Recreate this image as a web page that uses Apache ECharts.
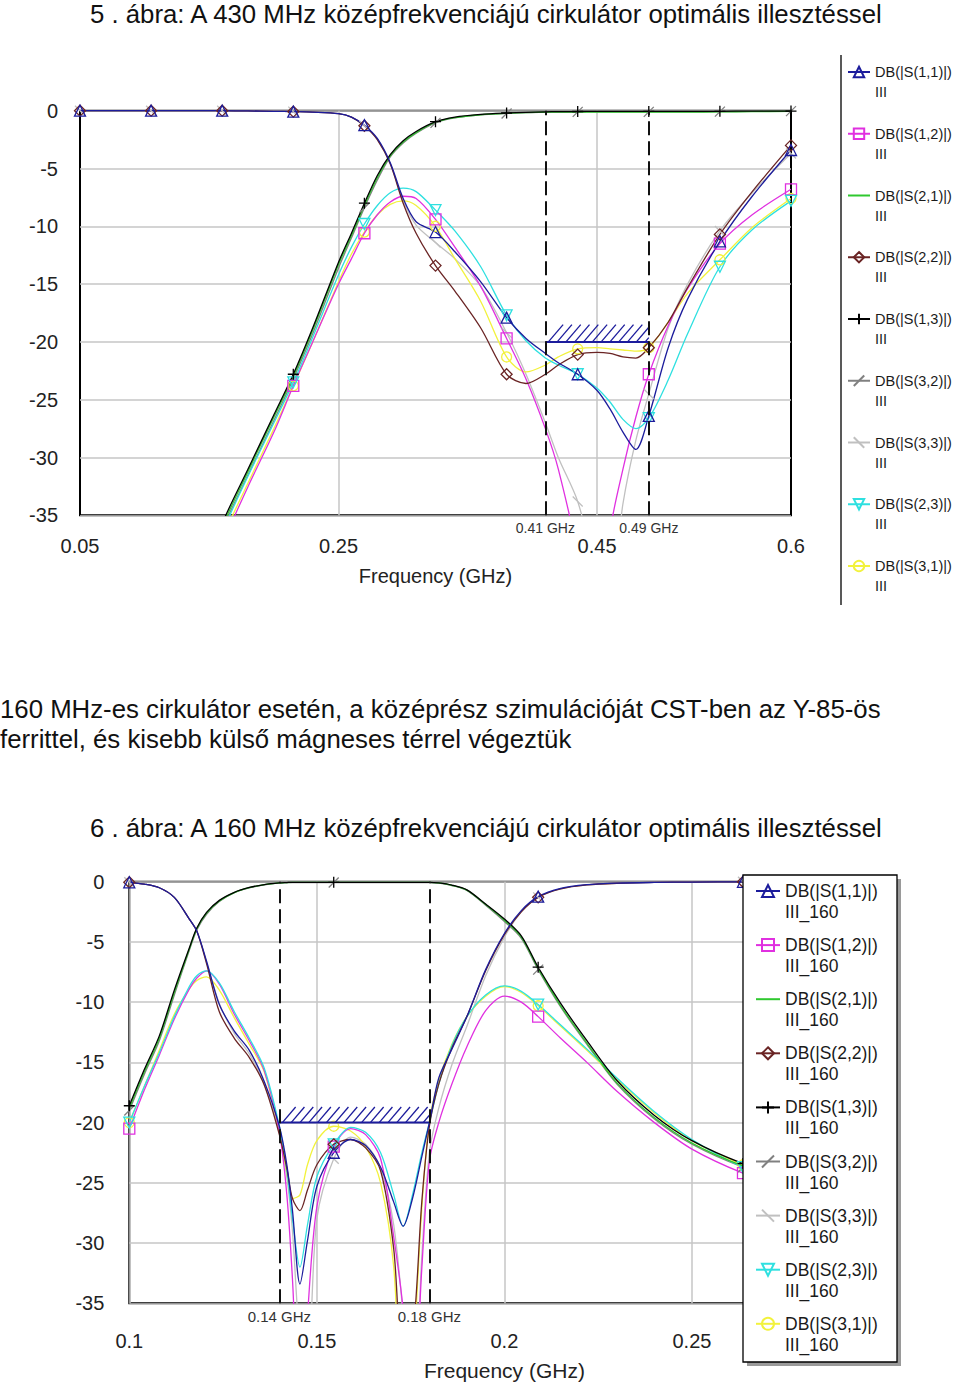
<!DOCTYPE html>
<html><head><meta charset="utf-8">
<script src="https://cdn.jsdelivr.net/npm/echarts@6/dist/echarts.min.js"></script>
<style>html,body{margin:0;padding:0;background:#fff}#c{width:960px;height:1392px}</style>
</head><body><div id="c"></div>
<script>
// ---------------- DATA ----------------
const seriesNames = ['DB(|S(1,1)|)','DB(|S(1,2)|)','DB(|S(2,1)|)','DB(|S(2,2)|)','DB(|S(1,3)|)','DB(|S(3,2)|)','DB(|S(3,3)|)','DB(|S(2,3)|)','DB(|S(3,1)|)'];

// Figure 5 (430 MHz)
const topFreq = [0.05,0.105,0.16,0.18,0.2,0.215,0.23,0.25,0.26,0.27,0.28,0.29,0.3,0.31,0.325,0.34,0.36,0.38,0.395,0.41,0.42,0.435,0.45,0.46,0.47,0.48,0.49,0.505,0.52,0.545,0.57,0.6];
const topMarkerFreq = [0.05,0.105,0.16,0.215,0.27,0.325,0.38,0.435,0.49,0.545,0.6];
const top_S11 = [0,0,0,-0.02,-0.05,-0.08,-0.12,-0.25,-0.55,-1.25,-2.4,-4.5,-7.6,-9.6,-10.5,-12.2,-14.8,-17.9,-19.7,-21.0,-21.8,-22.8,-24.2,-25.8,-27.8,-29.3,-26.4,-20.5,-16.3,-11.3,-7.4,-3.4];
const top_S12 = [-70,-52,-37.5,-32.5,-27.8,-23.8,-20.0,-15.0,-12.8,-10.6,-9.0,-7.9,-7.4,-7.6,-9.4,-11.8,-15.2,-19.7,-23.2,-27.5,-31.0,-38.5,-50,-36.5,-31.0,-26.5,-22.8,-18.6,-15.4,-11.5,-9.0,-6.8];
const top_S21 = [-70,-52,-36,-31.2,-26.5,-23.0,-19.0,-13.3,-10.8,-8.2,-5.8,-3.9,-2.7,-1.9,-1.0,-0.6,-0.35,-0.22,-0.16,-0.13,-0.12,-0.12,-0.12,-0.12,-0.12,-0.12,-0.12,-0.12,-0.12,-0.1,-0.08,-0.05];
const top_S22 = [0,0,0,-0.02,-0.05,-0.08,-0.12,-0.25,-0.55,-1.3,-2.5,-4.6,-8.0,-10.6,-13.4,-15.6,-18.8,-22.8,-23.6,-22.8,-22.0,-21.1,-20.9,-21.0,-21.3,-21.4,-20.5,-18.3,-15.3,-10.7,-7.0,-3.0];
const top_S13 = [-69,-51,-35.7,-31.0,-26.3,-22.8,-18.8,-13.1,-10.6,-8.0,-5.6,-3.8,-2.6,-1.8,-0.95,-0.55,-0.32,-0.2,-0.14,-0.1,-0.08,-0.07,-0.06,-0.06,-0.06,-0.06,-0.06,-0.06,-0.06,-0.05,-0.04,-0.03];
const top_S32 = [-71,-53,-36.3,-31.5,-26.8,-23.2,-19.3,-13.6,-11.0,-8.4,-6.0,-4.0,-2.8,-1.95,-1.05,-0.62,-0.36,-0.24,-0.17,-0.14,-0.12,-0.1,-0.1,-0.1,-0.1,-0.1,-0.1,-0.1,-0.1,-0.08,-0.06,-0.04];
const top_S33 = [0,0,0,-0.02,-0.05,-0.08,-0.12,-0.25,-0.55,-1.3,-2.5,-4.6,-7.8,-9.9,-11.4,-12.8,-15.2,-19.2,-22.8,-27.0,-30.0,-33.8,-40,-42,-34,-28.5,-24.5,-18.8,-15.0,-10.4,-7.1,-3.7];
const top_S23 = [-71,-52,-36.5,-31.6,-27.0,-23.5,-19.6,-14.2,-11.8,-9.8,-8.2,-7.1,-6.7,-7.0,-8.6,-10.4,-13.5,-17.7,-19.9,-21.4,-22.0,-22.8,-24.0,-25.2,-26.7,-27.5,-26.6,-23.3,-19.3,-13.5,-10.3,-7.8];
const top_S31 = [-71,-52,-37,-32.2,-27.5,-23.8,-20.0,-14.8,-12.4,-10.5,-9.0,-8.1,-7.8,-8.2,-10.0,-12.8,-16.5,-21.3,-22.6,-22.0,-21.3,-20.6,-20.5,-20.6,-20.7,-20.8,-20.5,-18.3,-15.8,-12.9,-10.1,-7.6];
const topBand = [0.41, 0.49];
const topSpec = -20;
const topHatchTop = -18.5;
const topXLabels = [0.05, 0.25, 0.45, 0.6];
const topXGrid = [0.25, 0.45];

// Figure 6 (160 MHz)
const botFreq = [0.1,0.104,0.108,0.112,0.116,0.118,0.1206,0.124,0.128,0.132,0.136,0.14,0.142,0.1435,0.1455,0.1475,0.15,0.1545,0.159,0.163,0.167,0.1705,0.173,0.1755,0.178,0.18,0.1825,0.186,0.19,0.195,0.2,0.2045,0.209,0.215,0.222,0.23,0.24,0.25,0.2636,0.28,0.3];
const botMarkerFreq = [0.1,0.1545,0.209,0.2636];
const bot_S11 = [-0.05,-0.2,-0.5,-1.3,-3.1,-4.1,-6.6,-10.2,-12.4,-14.0,-16.6,-20.3,-23.5,-27.3,-33.4,-29.8,-25.3,-22.5,-21.4,-21.9,-23.7,-26.6,-28.6,-26.3,-22.8,-20.0,-16.3,-13.9,-11.2,-7.3,-4.3,-2.4,-1.24,-0.55,-0.25,-0.12,-0.06,-0.03,-0.01,0,0];
const bot_S12 = [-20.5,-17.3,-14.4,-11.4,-8.9,-8.0,-7.4,-8.5,-11.0,-13.2,-15.7,-20.8,-26.0,-33.0,-45,-36,-27.0,-22.0,-20.5,-21.0,-23.0,-29.5,-35.5,-45,-32,-23.2,-20.0,-16.8,-13.7,-10.7,-9.5,-10.0,-11.2,-13.0,-15.0,-17.4,-20.0,-22.2,-24.2,-26.0,-27.5];
const bot_S21 = [-18.8,-15.8,-13.0,-9.2,-5.6,-3.9,-2.6,-1.6,-0.9,-0.5,-0.25,-0.1,-0.07,-0.06,-0.06,-0.06,-0.06,-0.06,-0.06,-0.06,-0.06,-0.06,-0.06,-0.06,-0.06,-0.06,-0.1,-0.3,-0.7,-1.9,-3.2,-4.6,-7.2,-10.3,-13.4,-16.7,-19.6,-21.7,-23.6,-25.2,-26.6];
const bot_S22 = [-0.05,-0.2,-0.5,-1.3,-3.1,-4.1,-6.8,-10.8,-13.0,-14.6,-16.9,-21.0,-23.8,-26.3,-27.3,-25.6,-23.5,-21.8,-21.4,-22.1,-24.0,-30.5,-40,-38,-26.5,-20.3,-16.8,-13.8,-11.2,-7.4,-4.4,-2.5,-1.3,-0.6,-0.27,-0.13,-0.06,-0.03,-0.01,0,0];
const bot_S13 = [-18.6,-15.6,-12.8,-9.0,-5.5,-3.85,-2.55,-1.55,-0.88,-0.48,-0.24,-0.1,-0.07,-0.05,-0.05,-0.05,-0.05,-0.05,-0.05,-0.05,-0.05,-0.05,-0.05,-0.05,-0.05,-0.05,-0.1,-0.28,-0.68,-1.85,-3.1,-4.5,-7.1,-10.1,-13.2,-16.5,-19.4,-21.5,-23.4,-25.0,-26.4];
const bot_S32 = [-19.0,-16.0,-13.2,-9.4,-5.7,-4.0,-2.7,-1.65,-0.92,-0.52,-0.26,-0.1,-0.08,-0.07,-0.07,-0.07,-0.07,-0.07,-0.07,-0.07,-0.07,-0.07,-0.07,-0.07,-0.07,-0.07,-0.11,-0.32,-0.72,-1.95,-3.3,-4.7,-7.3,-10.4,-13.5,-16.8,-19.7,-21.8,-23.7,-25.3,-26.7];
const bot_S33 = [-0.05,-0.2,-0.5,-1.3,-3.1,-4.1,-6.7,-10.1,-12.6,-14.3,-16.8,-20.8,-24.5,-29.0,-38,-40,-28.0,-23.0,-21.2,-21.8,-23.8,-28.5,-36,-45,-31,-22.5,-18.8,-15.2,-12.0,-7.8,-4.6,-2.5,-1.3,-0.6,-0.27,-0.13,-0.06,-0.03,-0.01,0,0];
const bot_S23 = [-20.0,-17.0,-14.2,-11.2,-8.7,-7.8,-7.4,-8.4,-10.8,-13.0,-15.5,-20.3,-24.0,-28.0,-32.0,-28.5,-24.5,-21.8,-20.4,-20.8,-22.5,-26.0,-28.6,-26.0,-22.5,-20.0,-16.8,-13.6,-11.2,-9.4,-8.65,-9.1,-10.2,-11.9,-13.9,-16.3,-19.1,-21.4,-23.7,-25.5,-27.0];
const bot_S31 = [-20.0,-17.0,-14.0,-11.0,-8.9,-8.2,-7.9,-9.0,-11.3,-13.5,-15.8,-20.8,-24.2,-26.3,-26.0,-23.5,-21.5,-20.3,-20.7,-22.0,-25.0,-32.0,-45,-40,-27.0,-19.9,-16.5,-13.5,-11.2,-9.5,-8.7,-9.2,-10.3,-12.0,-14.0,-16.4,-19.2,-21.5,-23.5,-25.3,-26.8];
const botBand = [0.14, 0.18];
const botSpec = -20;
const botHatchTop = -18.7;

const title5 = '5 . ábra: A 430 MHz középfrekvenciájú cirkulátor optimális illesztéssel';
const bodyLine1 = '160 MHz-es cirkulátor esetén, a középrész szimulációját CST-ben az Y-85-ös';
const bodyLine2 = 'ferrittel, és kisebb külső mágneses térrel végeztük';
const title6 = '6 . ábra: A 160 MHz középfrekvenciájú cirkulátor optimális illesztéssel';
const xName = 'Frequency (GHz)';

// ---------------- STYLE ----------------
const FONT = "'Liberation Sans', Arial, sans-serif";
const styles = [
  {color:'#1c1c9c', symbol:'triangle', size:11},
  {color:'#e030e0', symbol:'rect', size:11},
  {color:'#2fc82f', symbol:'circle', size:1, noMarker:true},
  {color:'#6a2424', symbol:'diamond', size:11},
  {color:'#000000', symbol:'path://M5,0L5,10M0,5L10,5', size:11},
  {color:'#808080', symbol:'path://M0,8L10,2', size:10},
  {color:'#c0c0c0', symbol:'path://M0,3L10,7', size:10},
  {color:'#2ee0e0', symbol:'path://M0,0L10,0L5,9Z', size:11},
  {color:'#f2f23c', symbol:'circle', size:10}
];
const topValues = [top_S11, top_S12, top_S21, top_S22, top_S13, top_S32, top_S33, top_S23, top_S31];
const botValues = [bot_S11, bot_S12, bot_S21, bot_S22, bot_S13, bot_S32, bot_S33, bot_S23, bot_S31];
const drawOrder = [6,5,8,1,7,3,2,4,0];

function buildSeries(freq, values, markers, gi) {
  return drawOrder.map((i) => {
    const st = styles[i];
    const data = freq.map((f, k) => {
      const item = {value: [f, values[i][k]]};
      if (st.noMarker || !markers.some(m => Math.abs(m - f) < 1e-6)) item.symbol = 'none';
      return item;
    });
    return {
      type:'line', name: seriesNames[i], xAxisIndex: gi, yAxisIndex: gi,
      data, smooth: 0.3, clip: true, showAllSymbol: true,
      symbol: st.symbol, symbolSize: st.size,
      lineStyle: {color: st.color, width: 1.3},
      itemStyle: {color: 'rgba(255,255,255,0)', borderColor: st.noMarker ? 'rgba(255,255,255,0)' : st.color, borderWidth: st.noMarker ? 0 : 1.3},
      emphasis: {disabled: true}, animation: false, z: 2
    };
  });
}

function hatchSeries(gi, band, spec, hatchTop, fs) {
  return {
    type:'custom', xAxisIndex: gi, yAxisIndex: gi, animation:false, z: 3,
    encode: {x:[0,1], y:[2,3]},
    data: [[band[0], band[1], spec, hatchTop]],
    renderItem: function (params, api) {
      const a = api.coord([api.value(0), api.value(2)]);
      const b = api.coord([api.value(1), api.value(2)]);
      const t = api.coord([api.value(0), api.value(3)]);
      const h = a[1] - t[1];
      const ch = [{type:'line', shape:{x1:a[0], y1:a[1], x2:b[0], y2:b[1]}, style:{stroke:'#1c1c9c', lineWidth:2}}];
      for (let x = a[0] + 3; x < b[0] - 3; x += 8.8) {
        const x2 = Math.min(x + h * 0.85, b[0]);
        const y2 = a[1] - (x2 - x) / 0.85;
        ch.push({type:'line', shape:{x1:x, y1:a[1], x2:x2, y2:y2}, style:{stroke:'#1c1c9c', lineWidth:1.3}});
      }
      return {type:'group', children: ch};
    },
    markLine: {
      silent: true, symbol: ['none','none'], animation: false,
      lineStyle: {color:'#111', type:[14,6], width:2},
      label: {position:'start', distance: 6, formatter: p => p.value + ' GHz', fontFamily: FONT, fontSize: fs, color:'#333'},
      data: band.map(v => ({xAxis: v}))
    }
  };
}

const axisLabelStyle = {fontFamily: FONT, fontSize: 20, color: '#222'};
const splitStyle = {show:true, lineStyle:{color:'#c6c6c6', width:1.5}};
const TXT_SCALE = 1.031;

const chart = echarts.init(document.getElementById('c'), null, {renderer:'svg', width:960, height:1392});
chart.setOption({
  backgroundColor: '#fff',
  animation: false,
  grid: [
    {left:80, top:110.7, width:711, height:404.6, show:true, borderColor:'#000', borderWidth:2, backgroundColor:'rgba(0,0,0,0)', outerBoundsMode:'none'},
    {left:129.3, top:881.7, width:750.2, height:421.6, show:true, borderColor:'#000', borderWidth:2, backgroundColor:'rgba(0,0,0,0)', outerBoundsMode:'none'}
  ],
  xAxis: [
    {type:'value', gridIndex:0, min:0.05, max:0.6,
     name: xName, nameLocation:'middle', nameGap: 51, nameTextStyle:{fontFamily:FONT, fontSize:20, color:'#222'},
     axisLine:{show:false}, axisTick:{show:false, customValues: topXGrid},
     axisLabel: Object.assign({customValues: topXLabels, margin: 21}, axisLabelStyle),
     splitLine: splitStyle},
    {type:'value', gridIndex:1, min:0.1, max:0.3, interval:0.05,
     name: xName, nameLocation:'middle', nameGap: 57, nameTextStyle:{fontFamily:FONT, fontSize:21, color:'#222'},
     axisLine:{show:false}, axisTick:{show:false},
     axisLabel: Object.assign({margin: 28}, axisLabelStyle),
     splitLine: splitStyle}
  ],
  yAxis: [
    {type:'value', gridIndex:0, min:-35, max:0, interval:5, axisLine:{show:false}, axisTick:{show:false},
     axisLabel: Object.assign({margin: 22}, axisLabelStyle), splitLine: splitStyle},
    {type:'value', gridIndex:1, min:-35, max:0, interval:5, axisLine:{show:false}, axisTick:{show:false},
     axisLabel: Object.assign({margin: 25}, axisLabelStyle), splitLine: splitStyle}
  ],
  legend: [
    {orient:'vertical', left:847, top:42, itemWidth:22, itemHeight:13, itemGap:1.75, padding:0,
     selectedMode:false, data: seriesNames, z: 10,
     formatter: n => '\u00a0\n' + n + '\nIII',
     textStyle:{fontFamily:FONT, fontSize:14.5, lineHeight:20, color:'#1a1a1a'}},
    {orient:'vertical', left:755, top:859.5, itemWidth:24, itemHeight:15, itemGap:-8.9, padding:0,
     selectedMode:false, data: seriesNames, z: 10,
     formatter: n => '\u00a0\n' + n + '\nIII_160',
     textStyle:{fontFamily:FONT, fontSize:17.5, lineHeight:21, color:'#1a1a1a'}}
  ],
  graphic: [
    {type:'text', x:90, y:14, z:5, scaleX:TXT_SCALE, style:{text:title5, font:'25px ' + FONT, fill:'#111', verticalAlign:'middle'}},
    {type:'text', x:0, y:709, z:5, scaleX:TXT_SCALE, style:{text:bodyLine1, font:'25px ' + FONT, fill:'#111', verticalAlign:'middle'}},
    {type:'text', x:0, y:739, z:5, scaleX:TXT_SCALE, style:{text:bodyLine2, font:'25px ' + FONT, fill:'#111', verticalAlign:'middle'}},
    {type:'text', x:90, y:828, z:5, scaleX:TXT_SCALE, style:{text:title6, font:'25px ' + FONT, fill:'#111', verticalAlign:'middle'}},
    {type:'line', z:5, shape:{x1:841, y1:55, x2:841, y2:605}, style:{stroke:'#222', lineWidth:1.5}},
    {type:'rect', z:6, shape:{x:747, y:879, width:154, height:487}, style:{fill:'#9a9a9a'}},
    {type:'rect', z:7, shape:{x:743, y:875, width:154, height:487}, style:{fill:'#fff', stroke:'#000', lineWidth:1.3}}
  ],
  series: [].concat(
    buildSeries(topFreq, topValues, topMarkerFreq, 0),
    buildSeries(botFreq, botValues, botMarkerFreq, 1),
    [hatchSeries(0, topBand, topSpec, topHatchTop, 14), hatchSeries(1, botBand, botSpec, botHatchTop, 15)]
  )
});
</script>
</body></html>
